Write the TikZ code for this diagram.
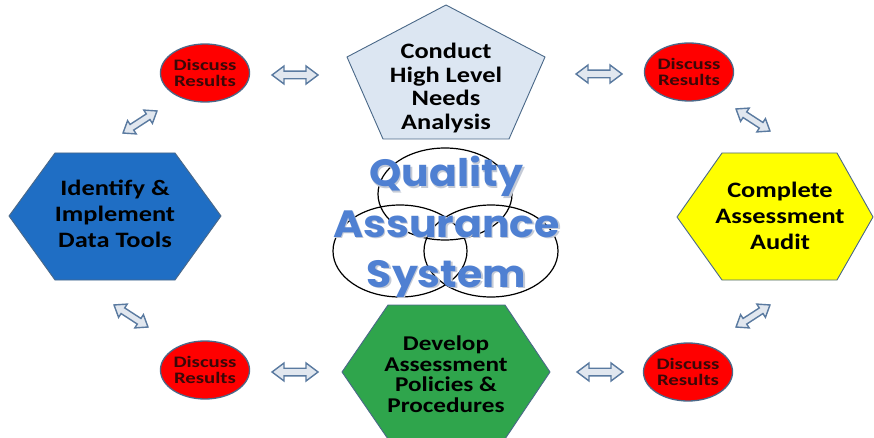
\documentclass[tikz,border=0pt]{standalone}
\usepackage{fontspec}
\newfontfamily\bodyfont[FakeStretch=1.2]{Carlito}
\newfontfamily\smallfont[FakeStretch=1.3]{Carlito}
\newfontfamily\qasfont[FakeStretch=1.08]{Poppins}
\definecolor{edgec}{HTML}{4A6888}
\definecolor{pentfill}{HTML}{DCE6F2}
\definecolor{bluefill}{HTML}{1F6EC4}
\definecolor{yelfill}{HTML}{FFFF00}
\definecolor{grnfill}{HTML}{2FA54C}
\definecolor{redfill}{HTML}{FF0000}
\definecolor{redtext}{HTML}{3A0808}
\definecolor{arrfill}{HTML}{E1E7EF}
\definecolor{arredge}{HTML}{5A7AA0}
\definecolor{qasblue}{HTML}{4F80D2}
\definecolor{qasshadow}{HTML}{C4CAD6}
\usetikzlibrary{shapes.geometric}
\tikzset{
  shapeline/.style={draw=edgec, line width=0.9pt, line join=round},
  lblbig/.style={font=\bodyfont\bfseries\fontsize{22}{26}\selectfont, align=center, text=black, inner sep=0pt},
  lblpent/.style={font=\bodyfont\bfseries\fontsize{22}{23.5}\selectfont, align=center, text=black, inner sep=0pt},
  lblgrn/.style={font=\bodyfont\bfseries\fontsize{21}{20.5}\selectfont, align=center, text=black, inner sep=0pt},
  discuss/.style={ellipse, draw=edgec, line width=1.3pt, fill=redfill, minimum width=88pt, minimum height=58pt, inner sep=0pt,
    font=\smallfont\bfseries\fontsize{16}{16.5}\selectfont, align=center, text=redtext},
  venn/.style={draw=black, line width=1.2pt},
  qas/.style={font=\qasfont\bfseries\fontsize{38}{40}\selectfont, text=qasblue, inner sep=0pt, anchor=base},
  qasshade/.style={font=\qasfont\bfseries\fontsize{38}{40}\selectfont, text=qasshadow, inner sep=0pt, anchor=base},
  arrowst/.style={draw=arredge, fill=arrfill, line width=1.4pt, line join=miter},
  dbl/.pic={\path[arrowst] (-23,0) -- (-11,-9) -- (-11,-3.8) -- (11,-3.8) -- (11,-9) -- (23,0)
     -- (11,9) -- (11,3.8) -- (-11,3.8) -- (-11,9) -- cycle;}
}
\begin{document}
\begin{tikzpicture}[x=1pt,y=-1pt]
\useasboundingbox[fill=white] (0,0) rectangle (874,438);

% Venn circles
\draw[venn] (445,194) ellipse [x radius=67, y radius=46];
\draw[venn] (400,251) ellipse [x radius=67, y radius=46];
\draw[venn] (491,251) ellipse [x radius=67, y radius=46];

% Quality Assurance System text (soft shadow, then fill)
\foreach \t/\yy in {Quality/187, Assurance/237, System/287}{
  \node[qasshade] at (448,\yy+1.5) {\t};
}
\node[qas] (q1) at (446.5,187) {Quality};
\node[qas] (q2) at (446.5,237) {Assurance};
\node[qas] (q3) at (446.5,287) {System};

% Pentagon
\path[shapeline, fill=pentfill] (446,5) -- (545,57) -- (509,139) -- (383,139) -- (347,57) -- cycle;
\node[lblpent] (pent) at (446,88) {Conduct\\High Level\\Needs\\Analysis};

% Blue hexagon
\path[shapeline, fill=bluefill] (9,216) -- (55,153) -- (175,153) -- (221,216) -- (175,280) -- (55,280) -- cycle;
\node[lblbig] (blue) at (115,214) {Identify \&\\Implement\\Data Tools};

% Yellow hexagon
\path[shapeline, fill=yelfill] (677,217) -- (722,153) -- (837,153) -- (873,217) -- (837,280) -- (722,280) -- cycle;
\node[lblbig] (yel) at (780,216) {Complete\\Assessment\\Audit};

% Green hexagon
\path[shapeline, fill=grnfill] (342,372) -- (388,305) -- (505,305) -- (550,372) -- (505,439) -- (388,439) -- cycle;
\node[lblgrn] (grn) at (446,374) {Develop\\Assessment\\Policies \&\\Procedures};

% Discuss Results
\node[discuss] (d1) at (205,73) {Discuss\\Results};
\node[discuss] (d2) at (689,72) {Discuss\\Results};
\node[discuss] (d3) at (205,370) {Discuss\\Results};
\node[discuss] (d4) at (688,372) {Discuss\\Results};

% block double arrows
\pic at (295,75) {dbl};
\pic at (599,74) {dbl};
\pic at (295,372) {dbl};
\pic at (600,372) {dbl};
\pic[rotate=33, scale=0.88] at (140,122) {dbl};
\pic[rotate=-33, scale=0.88] at (753,120) {dbl};
\pic[rotate=-33, scale=0.88] at (131,316) {dbl};
\pic[rotate=33, scale=0.88] at (753,316) {dbl};
\end{tikzpicture}
\end{document}
